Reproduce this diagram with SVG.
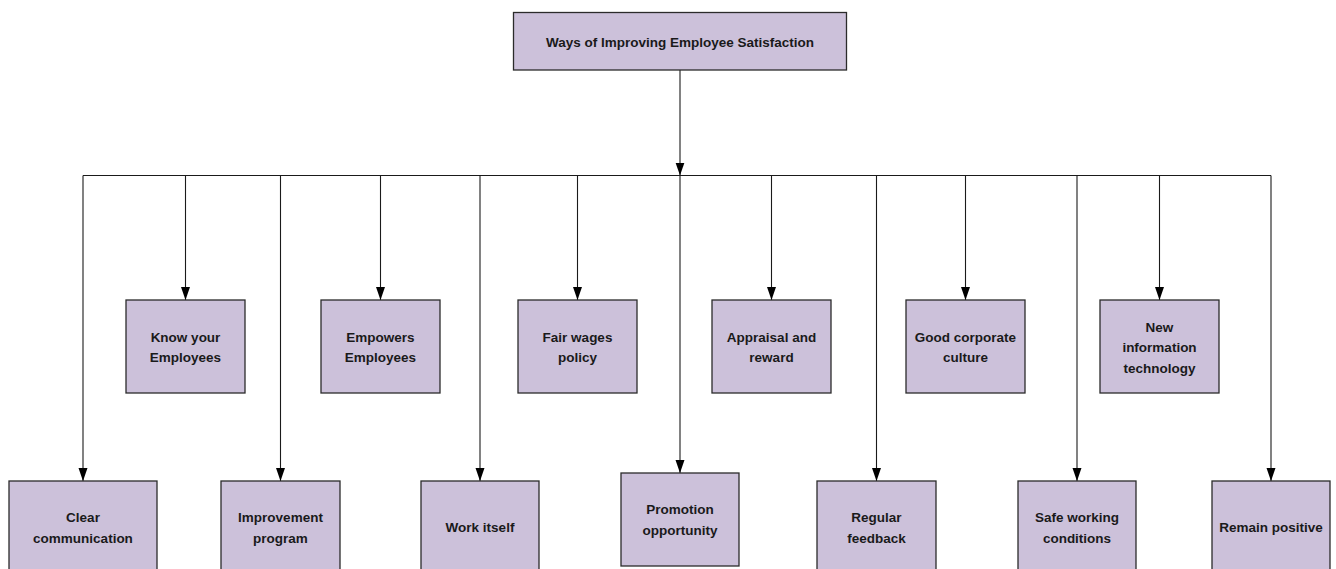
<svg xmlns="http://www.w3.org/2000/svg" width="1336" height="569" viewBox="0 0 1336 569">
<style>
.box{fill:#ccc1da;stroke:#2b2b2b;stroke-width:1.3}
.t{font-family:"Liberation Sans",Arial,sans-serif;font-weight:bold;font-size:13.5px;fill:#1a1a1a;text-anchor:middle}
.c{stroke:#1a1a1a;stroke-width:1.1;fill:none}
.a{marker-end:url(#arr)}
</style>
<defs>
<marker id="arr" markerUnits="userSpaceOnUse" markerWidth="14" markerHeight="10" refX="13" refY="4.5" orient="auto">
<path d="M0,0 L13,4.5 L0,9 z" fill="#000"/>
</marker>
</defs>
<rect width="1336" height="569" fill="#fff"/>
<g id="connectors">
<line class="c a" x1="680" y1="70" x2="680" y2="175.5"/>
<line class="c" x1="83" y1="175.5" x2="1271" y2="175.5"/>
<line class="c a" x1="83" y1="175.5" x2="83" y2="481"/>
<line class="c a" x1="185.5" y1="175.5" x2="185.5" y2="300"/>
<line class="c a" x1="280.5" y1="175.5" x2="280.5" y2="481"/>
<line class="c a" x1="380.5" y1="175.5" x2="380.5" y2="300"/>
<line class="c a" x1="480" y1="175.5" x2="480" y2="481"/>
<line class="c a" x1="577.5" y1="175.5" x2="577.5" y2="300"/>
<line class="c a" x1="680" y1="175.5" x2="680" y2="473"/>
<line class="c a" x1="771.5" y1="175.5" x2="771.5" y2="300"/>
<line class="c a" x1="876.5" y1="175.5" x2="876.5" y2="481"/>
<line class="c a" x1="965.5" y1="175.5" x2="965.5" y2="300"/>
<line class="c a" x1="1077" y1="175.5" x2="1077" y2="481"/>
<line class="c a" x1="1159.5" y1="175.5" x2="1159.5" y2="300"/>
<line class="c a" x1="1271" y1="175.5" x2="1271" y2="481"/>
</g>
<g id="root"><rect class="box" x="513.5" y="12.5" width="333" height="57.5"/><text class="t" x="680" y="47">Ways of Improving Employee Satisfaction</text></g>
<g id="know"><rect class="box" x="126" y="300" width="119" height="93"/><text class="t" x="185.5" y="341.5">Know your</text><text class="t" x="185.5" y="362">Employees</text></g>
<g id="empowers"><rect class="box" x="321" y="300" width="119" height="93"/><text class="t" x="380.5" y="341.5">Empowers</text><text class="t" x="380.5" y="362">Employees</text></g>
<g id="fair"><rect class="box" x="518" y="300" width="119" height="93"/><text class="t" x="577.5" y="341.5">Fair wages</text><text class="t" x="577.5" y="362">policy</text></g>
<g id="appraisal"><rect class="box" x="712" y="300" width="119" height="93"/><text class="t" x="771.5" y="341.5">Appraisal and</text><text class="t" x="771.5" y="362">reward</text></g>
<g id="culture"><rect class="box" x="906" y="300" width="119" height="93"/><text class="t" x="965.5" y="341.5">Good corporate</text><text class="t" x="965.5" y="362">culture</text></g>
<g id="newit"><rect class="box" x="1100" y="300" width="119" height="93"/><text class="t" x="1159.5" y="331.5">New</text><text class="t" x="1159.5" y="352">information</text><text class="t" x="1159.5" y="372.5">technology</text></g>
<g id="clear"><rect class="box" x="9" y="481" width="148" height="93"/><text class="t" x="83" y="522">Clear</text><text class="t" x="83" y="543">communication</text></g>
<g id="improvement"><rect class="box" x="221" y="481" width="119" height="93"/><text class="t" x="280.5" y="522">Improvement</text><text class="t" x="280.5" y="543">program</text></g>
<g id="work"><rect class="box" x="421" y="481" width="118" height="93"/><text class="t" x="480" y="531.5">Work itself</text></g>
<g id="promotion"><rect class="box" x="621" y="473" width="118" height="93"/><text class="t" x="680" y="513.5">Promotion</text><text class="t" x="680" y="534.5">opportunity</text></g>
<g id="feedback"><rect class="box" x="817" y="481" width="119" height="93"/><text class="t" x="876.5" y="522">Regular</text><text class="t" x="876.5" y="543">feedback</text></g>
<g id="safe"><rect class="box" x="1018" y="481" width="118" height="93"/><text class="t" x="1077" y="522">Safe working</text><text class="t" x="1077" y="543">conditions</text></g>
<g id="positive"><rect class="box" x="1212" y="481" width="118" height="93"/><text class="t" x="1271" y="531.5">Remain positive</text></g>
</svg>
